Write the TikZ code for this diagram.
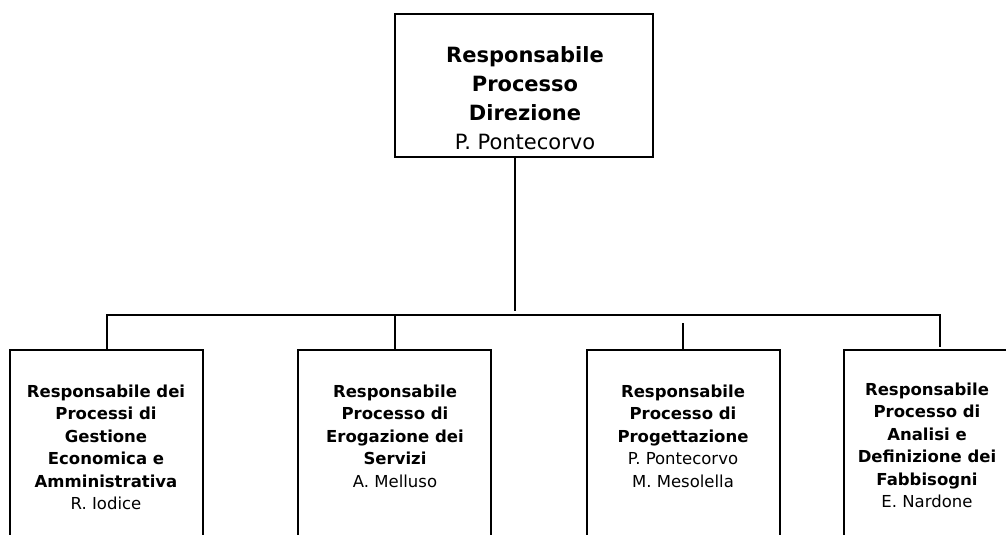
\documentclass[tikz,border=0pt]{standalone}
\usepackage{fontspec}
\setmainfont{DejaVu Sans}
\begin{document}
\begin{tikzpicture}[x=1pt,y=-1pt,
  box/.style={draw, line width=2pt, minimum width=193pt, minimum height=250pt, inner sep=0pt, outer sep=0pt, anchor=north},
  topbox/.style={box, minimum width=258pt, minimum height=143pt},
  bigtxt/.style={anchor=north, inner sep=0pt, align=center, font=\fontsize{21}{29}\selectfont},
  smalltxt/.style={anchor=north, inner sep=0pt, align=center, font=\fontsize{16.5}{22.5}\selectfont},
  link/.style={line width=2pt}]
\useasboundingbox (0,0) rectangle (1006,535);
\clip (0,0) rectangle (1006,535);
\fill[white] (0,0) rectangle (1006,535);
% boxes
\node[topbox] (top) at (524,14) {};
\node[box] (b1) at (106.5,350) {};
\node[box] (b2) at (394.5,350) {};
\node[box] (b3) at (683,350) {};
\node[box] (b4) at (940,350) {};
% texts
\node[bigtxt] (t0) at (525,46) {\textbf{Responsabile}\\\textbf{Processo}\\\textbf{Direzione}\\P. Pontecorvo};
\node[smalltxt] (t1) at (106,384.5) {\textbf{Responsabile dei}\\\textbf{Processi di}\\\textbf{Gestione}\\\textbf{Economica e}\\\textbf{Amministrativa}\\R. Iodice};
\node[smalltxt] (t2) at (395,384.5) {\textbf{Responsabile}\\\textbf{Processo di}\\\textbf{Erogazione dei}\\\textbf{Servizi}\\A. Melluso};
\node[smalltxt] (t3) at (683,384.5) {\textbf{Responsabile}\\\textbf{Processo di}\\\textbf{Progettazione}\\P. Pontecorvo\\M. Mesolella};
\node[smalltxt] (t4) at (927,382.5) {\textbf{Responsabile}\\\textbf{Processo di}\\\textbf{Analisi e}\\\textbf{Definizione dei}\\\textbf{Fabbisogni}\\E. Nardone};
% connectors
\coordinate (bus) at (0,315);
\coordinate (trunk) at (515,311);
\draw[link] (top.south -| trunk) -- (trunk);
\draw[link] (b1.north) -- (b1.north |- bus) -- (b4.north |- bus) -- ([yshift=3pt]b4.north);
\draw[link] (b2.north) -- (b2.north |- bus);
\draw[link] (b3.north) -- ([yshift=-8pt]b3.north |- bus);
\end{tikzpicture}
\end{document}
